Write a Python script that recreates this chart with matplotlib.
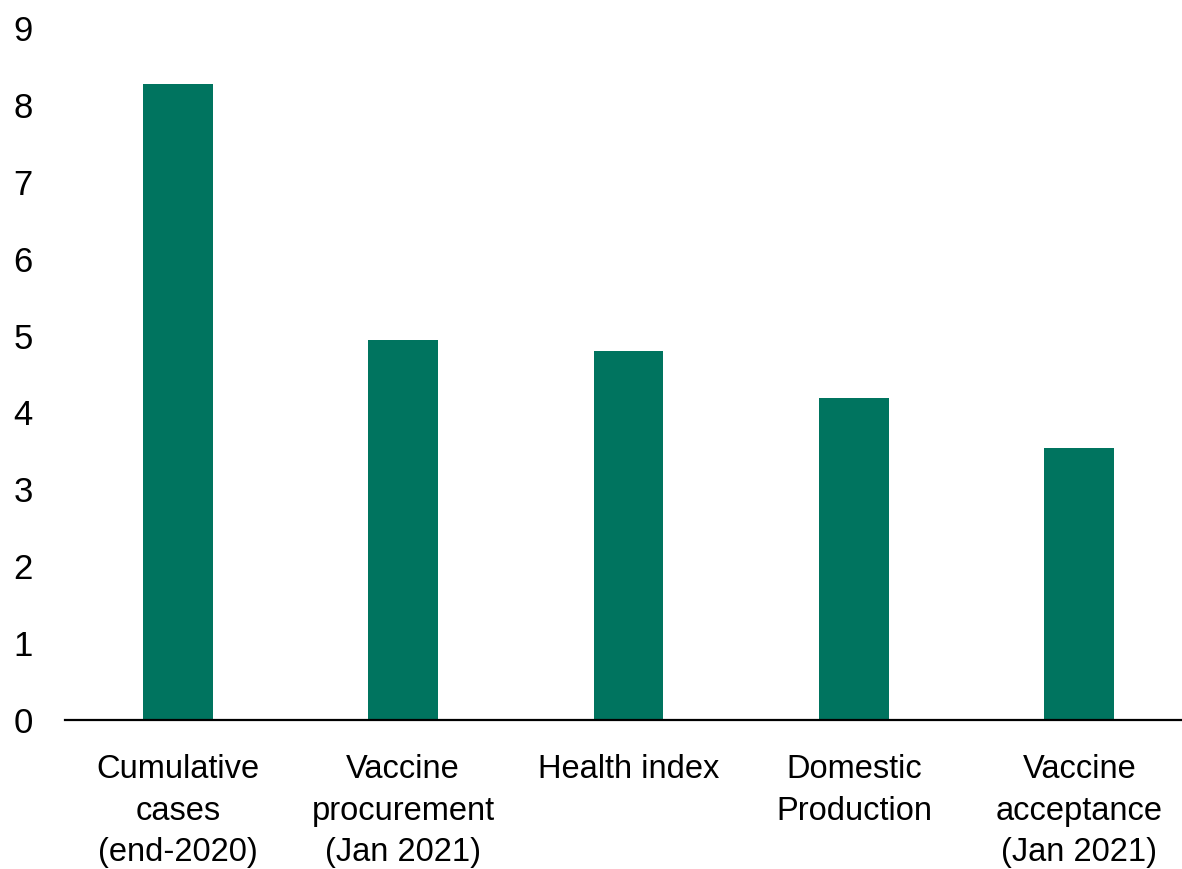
import matplotlib
matplotlib.use("Agg")
import matplotlib.pyplot as plt

categories = ["Cumulative\ncases\n(end-2020)", "Vaccine\nprocurement\n(Jan 2021)",
              "Health index", "Domestic\nProduction", "Vaccine\nacceptance\n(Jan 2021)"]
values = [8.27, 4.94, 4.80, 4.19, 3.54]
yticks = list(range(0, 10))

plt.rcParams['font.family'] = ['Liberation Sans', 'DejaVu Sans']

fig = plt.figure(figsize=(11.82, 8.69), dpi=100)
ax = fig.add_axes([65/1182, 1 - 720/869, (1192 - 65)/1182, (720 - 28)/869])

x = list(range(len(categories)))
ax.bar(x, values, width=0.31, color='#00745F')
ax.set_xlim(-0.5, 4.5)
ax.set_ylim(0, 9)
ax.set_yticks(yticks)
ax.set_xticks(x)
ax.set_xticklabels(categories, linespacing=1.44)
for s in ['top', 'right', 'left']:
    ax.spines[s].set_visible(False)
ax.spines['bottom'].set_linewidth(1.6)
ax.spines['bottom'].set_color('black')
ax.tick_params(axis='x', length=0, labelsize=23.5, pad=24.5)
ax.tick_params(axis='y', length=0, labelsize=25, pad=37)
for lab in ax.get_yticklabels():
    lab.set_horizontalalignment('left')

fig.savefig("out.png", dpi=100)
